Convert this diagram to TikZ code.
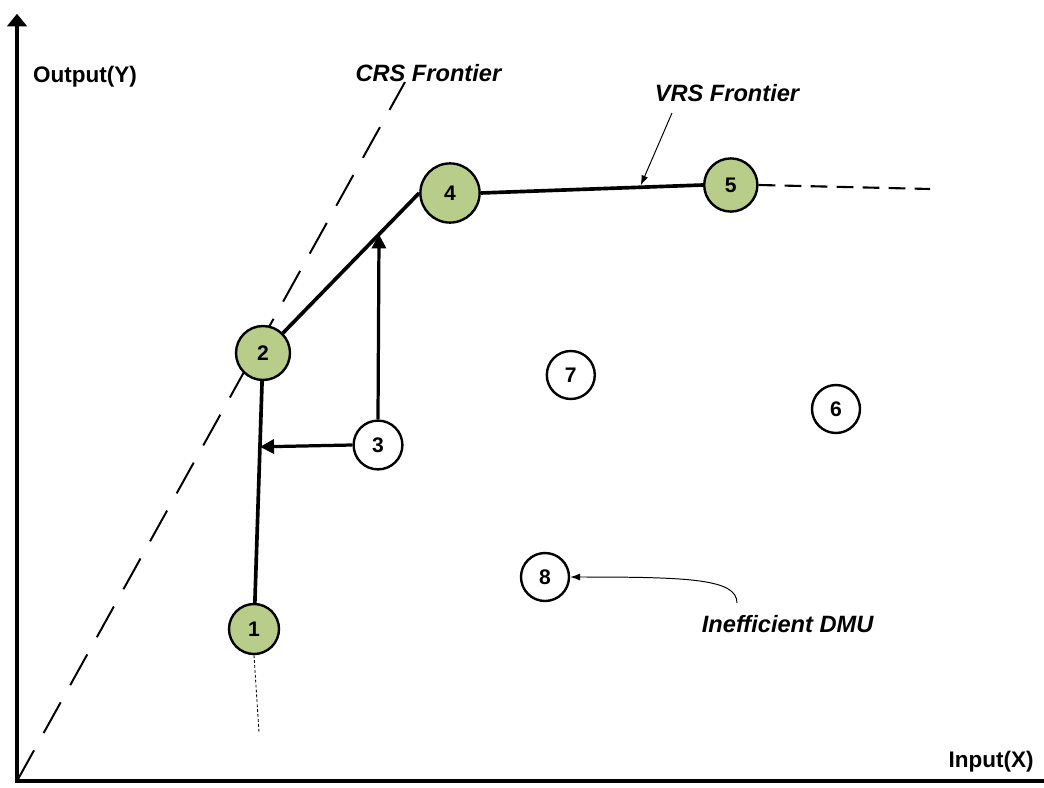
\documentclass[tikz,border=0pt]{standalone}
\usepackage{fontspec}
\setmainfont{Liberation Sans}
\usepackage{xcolor}
\usepackage{tikz}
\usetikzlibrary{arrows.meta,calc,positioning}
\definecolor{effgreen}{RGB}{185,205,138}

\begin{document}
\begin{tikzpicture}[
        dmu/.style={circle, draw, line width=1.7pt, inner sep=0pt, minimum size=1.2cm, font=\fontsize{15}{17}\selectfont\bfseries},
        eff/.style={dmu, fill=effgreen},
        ineff/.style={dmu, fill=white},
        frontier/.style={line width=2.6pt},
        push/.style={line width=2.3pt, -{Triangle[length=10pt,width=10pt]}},
        note/.style={line width=0.7pt, -{Latex[length=7pt,width=5pt]}},
        lbl/.style={font=\fontsize{16.8}{19}\selectfont\bfseries\itshape},
        axlbl/.style={font=\fontsize{16}{19}\selectfont\bfseries}
    ]
        \useasboundingbox (0,0) rectangle (26.1,19.675);

        \coordinate (O) at (0.425,0.15);
        \coordinate (ytop) at (0.425,19.33);
        \coordinate (xend) at (26.1,0.15);
        \draw[line width=3pt, {Triangle[length=9pt,width=14pt]}-] (ytop) -- (O) -- (xend);
        \node[axlbl] (ylab) at (2.125,17.75) {Output(Y)};
        \node[axlbl] (xlab) at (24.775,0.625) {Input(X)};

        % constant returns to scale ray
        \coordinate (crsend) at (10.125,17.625);
        \draw[line width=1.4pt, dash pattern=on 25pt off 14pt] (O) -- (crsend);
        \node[lbl] (crs) at (10.71,17.85) {CRS Frontier};

        \node[eff, minimum size=1.25cm] (dmu1) at (6.35,3.95) {1};
        \node[eff, minimum size=1.35cm] (dmu2) at (6.575,10.85) {2};
        \node[ineff, minimum size=1.22cm] (dmu3) at (9.45,8.55) {3};
        \node[eff, minimum size=1.48cm] (dmu4) at (11.25,14.85) {4};
        \node[eff, minimum size=1.33cm] (dmu5) at (18.27,15.05) {5};
        \node[ineff] (dmu6) at (20.9,9.45) {6};
        \node[ineff] (dmu7) at (14.27,10.3) {7};
        \node[ineff] (dmu8) at (13.625,5.25) {8};

        \draw[frontier] (dmu1) -- (dmu2);
        \draw[frontier] (dmu2.north east) -- (dmu4.west);
        \draw[frontier] (dmu4.east) -- (dmu5.west);

        \coordinate (tail) at (23.25,14.95);
        \draw[line width=1.5pt, dash pattern=on 12pt off 6.5pt] (dmu5.east) -- (tail);
        \coordinate (foot) at (6.475,1.375);
        \draw[line width=0.6pt, dash pattern=on 2pt off 1.5pt] (dmu1.south) -- (foot);

        % projections of DMU 3
        \coordinate (p12) at ($(dmu1)!0.66!(dmu2)$);
        \coordinate (p24) at ($(dmu2.north east)!0.705!(dmu4.west)$);
        \draw[push] (dmu3.west) -- (p12);
        \draw[push] (dmu3.north) -- (p24);

        \node[lbl] (vrs) at (18.175,17.35) {VRS Frontier};
        \coordinate (vrsfrom) at (16.8,16.85);
        \coordinate (vrsto) at ($(dmu4.east)!0.72!(dmu5.west)+(0,0.05)$);
        \draw[note] (vrsfrom) -- (vrsto);

        \node[lbl] (ineffdmu) at (19.69,4.075) {Inefficient DMU};
        \coordinate (ineffarr) at (18.425,4.6);
        \draw[note] (ineffarr) .. controls +(0,0.6) and +(3,0) .. (dmu8.east);
    \end{tikzpicture}
\end{document}
